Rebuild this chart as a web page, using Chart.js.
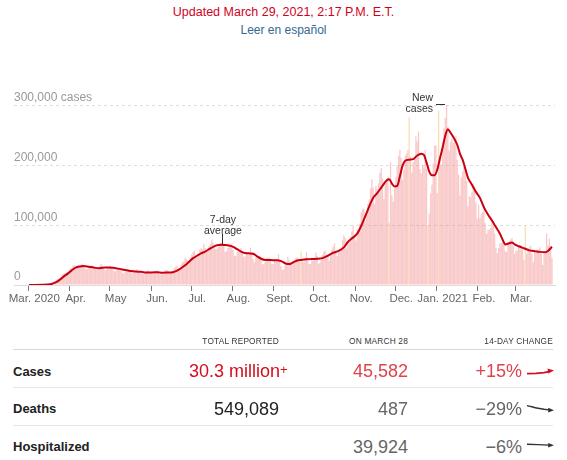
<!DOCTYPE html>
<html>
<head>
<meta charset="utf-8">
<script src="https://cdn.jsdelivr.net/npm/chart.js@4.4.1/dist/chart.umd.min.js"></script>
<style>
  body { margin: 0; width: 567px; height: 460px; position: relative; overflow: hidden; background: #fff;
         font-family: "Liberation Sans", Arial, sans-serif; color: #333; }
  .abs { position: absolute; white-space: nowrap; }
  .center { left: 0; width: 567px; text-align: center; }
  #updated { top: 5px; color: #d0021b; font-size: 12.5px; }
  #spanish { top: 23px; color: #326891; font-size: 12px; }
  #chartBox { position: absolute; left: 0; top: 80px; width: 567px; height: 240px; }
  .note { font-size: 10.5px; line-height: 11px; color: #333; }
  .tick { background: #333; }
  .hdr { font-size: 8.3px; line-height: 20px; top: 330.5px; color: #333; letter-spacing: 0.2px; }
  .row { line-height: 20px; }
  .label { left: 13px; font-weight: bold; font-size: 13px; color: #222; }
  .num { font-size: 18px; }
  .rule { left: 13px; width: 540px; height: 1px; background: #e8e8e8; }
</style>
</head>
<body>
<div id="updated" class="abs center">Updated March 29, 2021, 2:17 P.M. E.T.</div>
<div id="spanish" class="abs center">Leer en español</div>

<div id="chartBox"><canvas id="casesChart" width="567" height="240"></canvas></div>

<div class="abs note" style="right:134px; top:92px; text-align:right;">New<br>cases</div>
<div class="abs tick" style="left:436px; top:104px; width:9px; height:1px;"></div>
<div class="abs note" style="left:183px; top:213.5px; width:80px; text-align:center;">7-day<br>average</div>
<div class="abs tick" style="left:222px; top:234px; width:1px; height:10px;"></div>

<div class="abs hdr" style="right:288px;">TOTAL REPORTED</div>
<div class="abs hdr" style="right:159px;">ON MARCH 28</div>
<div class="abs hdr" style="right:14px;">14-DAY CHANGE</div>
<div class="abs rule" style="top:349px; background:#d9d9d9;"></div>

<div class="abs row label" style="top:362px;">Cases</div>
<div class="abs row num" style="top:361px; right:287px; color:#d40d1f;">30.3 million</div>
<div class="abs num" style="top:359.5px; left:280px; font-size:13px; line-height:20px; color:#d40d1f;">+</div>
<div class="abs row num" style="top:361px; right:159px; color:#e0424b;">45,582</div>
<div class="abs row num" style="top:361px; right:45px; color:#e0424b;">+15%</div>
<div class="abs rule" style="top:387px;"></div>

<div class="abs row label" style="top:399px;">Deaths</div>
<div class="abs row num" style="top:398.5px; right:288px; color:#222;">549,089</div>
<div class="abs row num" style="top:398.5px; right:159px; color:#666;">487</div>
<div class="abs row num" style="top:398.5px; right:45px; color:#666;">&minus;29%</div>
<div class="abs rule" style="top:425px;"></div>

<div class="abs row label" style="top:437px;">Hospitalized</div>
<div class="abs row num" style="top:436.5px; right:159px; color:#666;">39,924</div>
<div class="abs row num" style="top:436.5px; right:45px; color:#666;">&minus;6%</div>

<svg class="abs" style="left:524px; top:362px;" width="34" height="92">
  <path d="M3 11.6 L12 11.4 L20 10.6 L25 9.6" stroke="#d40d1f" stroke-width="1.6" fill="none"/>
  <path d="M30 8.6 L23.5 6.6 L24.3 11.4 Z" fill="#d40d1f"/>
  <path d="M3 43.6 C7 44.4 10 45.6 14 46.2 L20 47.2 L25 47.9" stroke="#333" stroke-width="1.4" fill="none"/>
  <path d="M30 48.3 L24.2 45.7 L24.2 50.4 Z" fill="#333"/>
  <path d="M3 82.3 L14 82.6 L25 83.1" stroke="#333" stroke-width="1.4" fill="none"/>
  <path d="M30 83.3 L24.2 80.9 L24.2 85.6 Z" fill="#333"/>
</svg>

<script>
// Month ticks (days since Mar. 1, 2020) and their labels.
const monthTicks = [0, 31, 61, 92, 122, 153, 184, 214, 245, 275, 306, 337, 365];
const monthLabels = ['Mar. 2020', 'Apr.', 'May', 'Jun.', 'Jul.', 'Aug.', 'Sept.', 'Oct.', 'Nov.', 'Dec.', 'Jan. 2021', 'Feb.', 'Mar.'];
const yTicks = [0, 100, 200, 300]; // thousands of cases

// Daily new cases, in thousands, one array per month.
const mar20 = [0.01, 0.02, 0.02, 0.03, 0.05, 0.08, 0.1, 0.13, 0.2, 0.3, 0.4, 0.5, 0.7, 0.7, 0.9, 1.3, 1.8, 2.9, 4.6, 5.7, 6.7,
  9.2, 10.4, 11, 13.9, 17.9, 19, 19.6, 19, 21.6, 24.2];
const apr20 = [27.1, 28.4, 32.1, 33.3, 26, 29.5, 30.2, 31.7, 33.9, 35.1, 30.4, 27.8, 26.4, 26.6, 30.8, 30.2, 33.1, 29.9,
  27.3, 27.1, 27.6, 28.8, 31.9, 35, 32.7, 26.9, 24.7, 25.2, 29.3, 30.3];
const may20 = [32.8, 29.9, 26.4, 22.7, 23.6, 24.5, 28.4, 27.3, 25.7, 20.5, 18.9, 22, 21.6, 26.7, 25.5, 24.6, 19.3, 21.1,
  21.5, 22.6, 26.5, 24.4, 21.2, 19.4, 18.4, 17.4, 19.9, 22.4, 24.3, 23.4, 19.9];
const jun20 = [21.4, 19.7, 20.5, 21.4, 24.5, 22.8, 17.8, 17.9, 17.6, 21.6, 22.6, 25, 24.9, 20.5, 19.5, 23.4, 24.8, 28.3,
  31.2, 32.3, 27.6, 29, 34.5, 37.6, 40, 45.3, 43.5, 40.3, 40.3, 46.5];
const jul20 = [51.4, 55.3, 57.3, 46.5, 45.9, 51.1, 59.3, 61.4, 59.3, 68.5, 62.1, 58.5, 59.5, 65.7, 68.6, 75.8, 70.7, 66.2,
  60.3, 60.9, 63.8, 69.6, 70.9, 72.8, 65.8, 55.1, 56.9, 61.8, 69.8, 67.7, 69.4];
const aug20 = [58.5, 49.2, 48.6, 55.9, 56.1, 60.6, 62.3, 57.4, 47.2, 47.8, 53.6, 54.5, 52.3, 62.8, 55.2, 43.2, 37.9, 45.5,
  46.5, 46.3, 48.2, 44.6, 34.4, 35.1, 38.4, 44.9, 45.3, 46.7, 43.5, 35.1, 34.9];
const sep20 = [42.5, 39.5, 43.4, 51.6, 42.5, 31.4, 24.6, 27, 34.7, 35.9, 47.5, 40.9, 34.4, 34.7, 39, 38.2, 45.3, 46.3,
  41.4, 38.4, 56, 39.6, 38.8, 44.3, 55.6, 46, 34.9, 35.1, 42.2, 40.1];
const oct20 = [44.6, 54.4, 48.6, 35.5, 37.8, 43.7, 50.6, 56.2, 57.4, 49.5, 46.2, 41, 51.6, 59.9, 64.1, 69.6, 55, 48.2,
  57.9, 60.3, 63, 75.1, 83.4, 79.7, 61.3, 68.2, 74.4, 80.1, 89.7, 99.3, 81.2];
const nov20 = [74.4, 93.6, 91.5, 103.1, 121.5, 126.6, 128.2, 106.5, 118.1, 136.3, 143.4, 161.4, 177.2, 163.3, 135.6,
  165.7, 160.7, 170.5, 187.8, 196.1, 179.1, 143.9, 172.4, 174.7, 181.4, 104, 205.6, 150.4, 139.3, 161.5];
const dec20 = [180.6, 200.1, 216.7, 226.9, 212.6, 176.3, 193.3, 216.4, 220.1, 226.1, 282, 214.2, 188, 206.2, 212.4,
  249.1, 240.3, 257.1, 194.3, 187.2, 201.2, 198.2, 226.7, 195, 100, 120, 153.5, 167.8, 203.4, 233.6, 234.1];
const jan21 = [154, 292, 215, 200, 240, 262, 280, 301, 265, 225, 240, 245, 238, 242, 250, 210, 185, 150, 180, 190, 198,
  192, 175, 131.2, 148.6, 147.1, 155.3, 169.7, 165.9, 137.5, 111.3];
const feb21 = [134.9, 111.8, 119.3, 122.6, 134.2, 103.5, 85.6, 92.5, 92.9, 95.5, 106.6, 99.7, 86.3, 63, 53.8, 61.9, 70.3,
  69.8, 78.4, 72.4, 56.7, 55.2, 71.8, 74.3, 76.2, 78.8, 65.4, 52.1];
const mar21 = [57.9, 57.5, 66.8, 67.1, 66.4, 59.6, 41.4, 99, 52.6, 57.9, 63, 66.2, 52.3, 38.1, 54.7, 53.4, 59.9, 60.1,
  62.8, 52.6, 33.6, 52.7, 54.4, 86.2, 65.6, 77.6, 61.9, 45.6];

// Days with irregular reporting (highlighted bars).
const flaggedDays = [204, 270, 285, 299, 307, 372];

// 7-day average (day index, thousands).
const avgDays = [0, 10, 14, 17, 20, 23, 26, 29, 32, 35, 38, 41, 45, 49, 53, 57, 60, 64, 68, 72, 76, 80, 84, 88, 92, 96,
  100, 104, 108, 111, 114, 117, 120, 123, 126, 129, 132, 135, 138, 141, 144, 147, 150, 153, 156, 159, 162, 165, 168,
  171, 174, 177, 180, 183, 186, 189, 192, 195, 198, 201, 204, 208, 212, 216, 220, 224, 228, 232, 236, 239, 242, 246,
  250, 254, 258, 261, 264, 268, 270, 272, 274, 276, 278, 280, 282, 285, 288, 291, 294, 296, 298, 300, 302, 304, 306,
  308, 310, 312, 314, 316, 318, 321, 323, 325, 327, 329, 332, 335, 338, 341, 344, 347, 350, 353, 355, 357, 360, 362,
  364, 367, 371, 375, 378, 383, 387, 389, 392];
const avgValues = [0, 0.3, 0.7, 1.8, 4.3, 8.5, 14, 19, 24.5, 29, 31, 32, 30.5, 29, 28, 29.5, 29.5, 28.5, 27, 25, 23.5,
  22.5, 22, 21, 21, 21.5, 20.5, 21, 21.5, 24, 28, 33, 39, 45, 49, 53, 56, 60, 64, 66.5, 67.5, 67, 66, 64, 60, 56, 53.5,
  53, 52.5, 48, 44, 42, 42, 41.5, 41.5, 40, 36.5, 35, 38, 41, 42, 43, 43.5, 44, 45, 49, 54, 57, 63, 72, 78, 86, 104, 126,
  146, 154, 163, 175, 177, 170, 165, 166, 182, 200, 208, 210, 211, 217, 220, 218, 205, 190, 184, 184, 193, 212, 230,
  250, 261, 255, 248, 235, 220, 210, 195, 180, 168, 156, 146, 130, 118, 108, 97, 86, 76, 68, 70, 71, 68, 65, 61.5, 58,
  57, 55.5, 55, 57, 64];

const dailyCases = [].concat(mar20, apr20, may20, jun20, jul20, aug20, sep20, oct20, nov20, dec20, jan21, feb21, mar21);
const FONT = '"Liberation Sans", Arial, sans-serif';

new Chart(document.getElementById('casesChart').getContext('2d'), {
  type: 'bar',
  data: {
    datasets: [
      {
        type: 'line',
        data: avgDays.map((d, i) => ({ x: d + 0.5, y: avgValues[i] })),
        borderColor: '#c9000f',
        borderWidth: 2,
        pointRadius: 0,
        cubicInterpolationMode: 'monotone',
        order: 0,
      },
      {
        type: 'bar',
        data: dailyCases.map((v, i) => ({ x: i + 0.5, y: v })),
        backgroundColor: (c) => (flaggedDays.includes(c.dataIndex) ? 'rgba(250,190,120,0.55)' : 'rgba(240,120,120,0.4)'),
        barPercentage: 0.95,
        categoryPercentage: 1,
        order: 1,
      },
    ],
  },
  options: {
    responsive: false,
    animation: false,
    events: [],
    layout: { padding: { left: 14, right: 12, top: 14, bottom: 10 } },
    plugins: { legend: { display: false }, tooltip: { enabled: false } },
    scales: {
      x: {
        type: 'linear',
        min: -10.72,
        max: 394.76,
        offset: false,
        afterBuildTicks: (s) => { s.ticks = monthTicks.map((v) => ({ value: v })); },
        afterFit: (s) => { s.height = 25; s.paddingLeft = 0; s.paddingRight = 0; },
        ticks: {
          autoSkip: false,
          maxRotation: 0,
          labelOffset: 6,
          padding: 1,
          color: '#666',
          font: { family: FONT, size: 11.5 },
          callback: (v) => monthLabels[monthTicks.indexOf(v)] ?? '',
        },
        grid: { drawOnChartArea: false, drawTicks: true, tickLength: 6, tickColor: '#777', offset: false },
        border: { display: true, color: '#ddd' },
      },
      y: {
        min: 0,
        max: 320,
        afterBuildTicks: (s) => { s.ticks = yTicks.map((v) => ({ value: v })); },
        afterFit: (s) => { s.width = 0; s.paddingTop = 0; s.paddingBottom = 0; },
        ticks: {
          mirror: true,
          padding: 0,
          labelOffset: -8,
          color: '#999',
          font: { family: FONT, size: 12 },
          callback: (v) => (v === 300 ? '300,000 cases' : (v * 1000).toLocaleString('en-US')),
        },
        grid: { drawTicks: false, color: (c) => (c.tick && c.tick.value === 0 ? 'rgba(0,0,0,0)' : '#dedede') },
        border: { display: false, dash: [3, 3] },
      },
    },
  },
});
</script>
</body>
</html>
